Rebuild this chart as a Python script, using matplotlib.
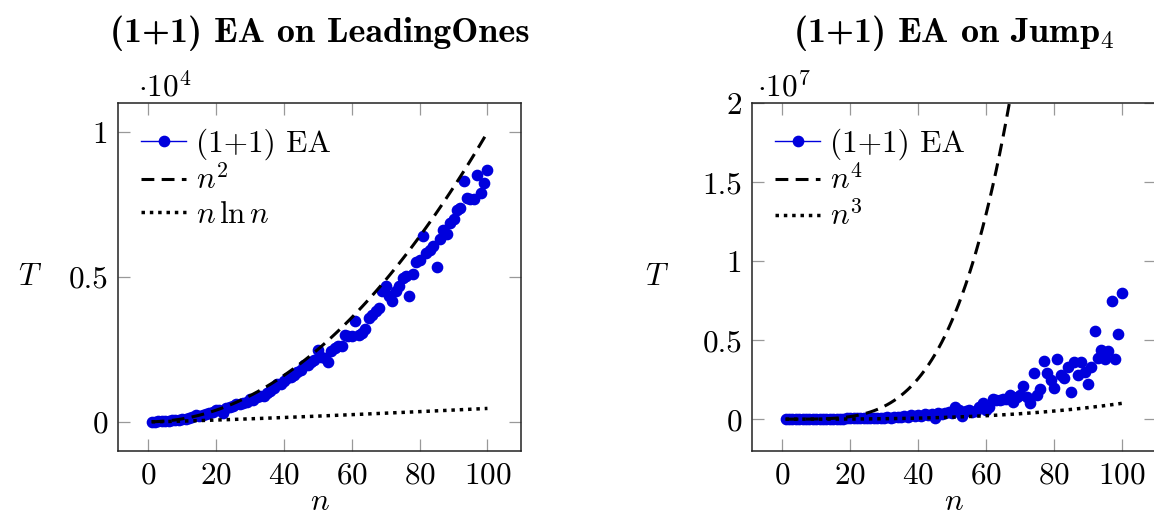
import numpy as np
import matplotlib
matplotlib.use('Agg')
import matplotlib.pyplot as plt
from matplotlib.lines import Line2D

plt.rcParams['font.family'] = 'serif'
plt.rcParams['font.serif'] = ['cmr10']
plt.rcParams['mathtext.fontset'] = 'cm'
plt.rcParams['axes.formatter.use_mathtext'] = True
plt.rcParams['axes.unicode_minus'] = False

n = np.arange(1, 101)

# (1+1) EA on LeadingOnes, runtime T per n
lo_runtime = [
    1, 3, 10, 15, 22, 35, 45, 60, 75, 95,
    110, 130, 150, 250, 200, 230, 260, 290, 330, 420,
    400, 310, 460, 500, 560, 620, 600, 660, 700, 780,
    760, 850, 880, 900, 1000, 1050, 1150, 1300, 1320, 1400,
    1500, 1550, 1600, 1720, 1800, 1950, 1950, 2080, 2150, 2480,
    2250, 2200, 2050, 2430, 2550, 2600, 2620, 3010, 2950, 2960,
    3470, 3010, 3080, 3190, 3590, 3700, 3820, 3940, 4510, 4680,
    4340, 4170, 4500, 4680, 4970, 5030, 4340, 5090, 5510, 5600,
    6410, 5840, 5950, 6060, 5340, 6300, 6640, 6470, 6870, 6990,
    7330, 7390, 8310, 7730, 7700, 7680, 8540, 7910, 8230, 8710,
]

# (1+1) EA on Jump_4, runtime T per n in units of 1e6
jump_runtime_m = [
    0.000, 0.000, 0.001, 0.001, 0.002, 0.003, 0.004, 0.006, 0.008, 0.010,
    0.012, 0.015, 0.018, 0.020, 0.025, 0.030, 0.035, 0.040, 0.045, 0.050,
    0.055, 0.060, 0.065, 0.070, 0.075, 0.080, 0.060, 0.090, 0.100, 0.080,
    0.120, 0.100, 0.140, 0.110, 0.160, 0.220, 0.150, 0.270, 0.200, 0.250,
    0.180, 0.300, 0.240, 0.340, 0.070, 0.380, 0.300, 0.380, 0.450, 0.380,
    0.800, 0.550, 0.200, 0.500, 0.600, 0.450, 0.500, 0.750, 1.000, 0.600,
    0.800, 1.250, 1.200, 1.220, 1.300, 1.300, 1.500, 1.100, 1.400, 1.500,
    2.100, 1.400, 1.000, 2.950, 1.500, 1.900, 3.650, 2.900, 2.500, 2.000,
    3.800, 2.800, 2.600, 3.300, 1.750, 3.600, 2.800, 3.600, 3.000, 2.200,
    3.300, 5.600, 3.900, 4.400, 3.800, 4.300, 7.500, 3.800, 5.400, 8.000,
]

x_ticks = [0, 20, 40, 60, 80, 100]
lo_yticks = [0, 5000, 10000]
lo_yticklabels = ['0', '0.5', '1']
jump_yticks = [0, 5e6, 1e7, 1.5e7, 2e7]
jump_yticklabels = ['0', '0.5', '1', '1.5', '2']

blue = '#0000dd'
fs = 22.5
dash = (0, (4.2, 2.4))
dots = (0, (1, 1.4))


def style_axes(ax):
    for s in ax.spines.values():
        s.set_linewidth(1.1)
        s.set_color('#222222')
    ax.tick_params(direction='in', length=8.5, width=0.9, color='#999999',
                   top=True, right=True, labelsize=fs)
    ax.tick_params(axis='x', pad=8)
    ax.tick_params(axis='y', pad=7)
    ax.set_xticks(x_ticks)
    ax.set_xlim(-8.9, 109.9)


def ea_handle():
    return Line2D([], [], color=blue, lw=1.0, marker='o', markersize=7.4,
                  markerfacecolor=blue, markeredgecolor=blue)


fig = plt.figure(figsize=(11.54, 5.17), dpi=100)

# left: LeadingOnes
ax1 = fig.add_axes([0.1023, 0.1282, 0.3492, 0.672])
ax1.plot(n, lo_runtime, 'o', color=blue, markersize=7.4, zorder=2)
l2, = ax1.plot(n, n ** 2, color='black', lw=2.2, linestyle=dash, zorder=3)
l3, = ax1.plot(n, n * np.log(n), color='black', lw=2.5, linestyle=dots,
               zorder=3)
style_axes(ax1)
ax1.set_ylim(-1000, 11000)
ax1.set_yticks(lo_yticks)
ax1.set_yticklabels(lo_yticklabels)
ax1.set_xlabel('$n$', fontsize=fs, va='baseline')
ax1.set_ylabel('$T$', fontsize=fs, rotation=0, ha='center', va='center')
ax1.xaxis.set_label_coords(0.5, -0.172)
ax1.yaxis.set_label_coords(-0.218, 0.5)
ax1.text(0.05, 1.018, r'$\cdot 10^4$', transform=ax1.transAxes,
         fontsize=fs, va='baseline', ha='left')
ax1.set_title('(1+1) EA on LeadingOnes', fontfamily='cmb10', fontsize=26,
              pad=44)
ax1.legend([ea_handle(), l2, l3], ['(1+1) EA', '$n^2$', r'$n\,\ln n$'],
           loc='upper left', bbox_to_anchor=(0.003, 0.99), frameon=False,
           fontsize=fs, handlelength=1.45, handletextpad=0.32,
           labelspacing=0.15, borderpad=0.2, numpoints=1)

# right: Jump_4
jump_runtime = np.array(jump_runtime_m) * 1e6
ax2 = fig.add_axes([0.6516, 0.1282, 0.3497, 0.672])
ax2.plot(n, jump_runtime, 'o', color=blue, markersize=7.4, zorder=2)
r2, = ax2.plot(n, n.astype(float) ** 4, color='black', lw=2.2,
               linestyle=dash, zorder=3)
r3, = ax2.plot(n, n.astype(float) ** 3, color='black', lw=2.5,
               linestyle=dots, zorder=3)
style_axes(ax2)
ax2.set_ylim(-2e6, 2e7)
ax2.set_yticks(jump_yticks)
ax2.set_yticklabels(jump_yticklabels)
ax2.set_xlabel('$n$', fontsize=fs, va='baseline')
ax2.set_ylabel('$T$', fontsize=fs, rotation=0, ha='center', va='center')
ax2.xaxis.set_label_coords(0.5, -0.172)
ax2.yaxis.set_label_coords(-0.235, 0.5)
ax2.text(0.012, 1.018, r'$\cdot 10^7$', transform=ax2.transAxes,
         fontsize=fs, va='baseline', ha='left')
ax2.set_title('(1+1) EA on Jump$_4$', fontfamily='cmb10', fontsize=26,
              pad=44)
ax2.legend([ea_handle(), r2, r3], ['(1+1) EA', '$n^4$', '$n^3$'],
           loc='upper left', bbox_to_anchor=(0.003, 0.99), frameon=False,
           fontsize=fs, handlelength=1.45, handletextpad=0.32,
           labelspacing=0.15, borderpad=0.2, numpoints=1)

fig.savefig('out.png', dpi=100)
